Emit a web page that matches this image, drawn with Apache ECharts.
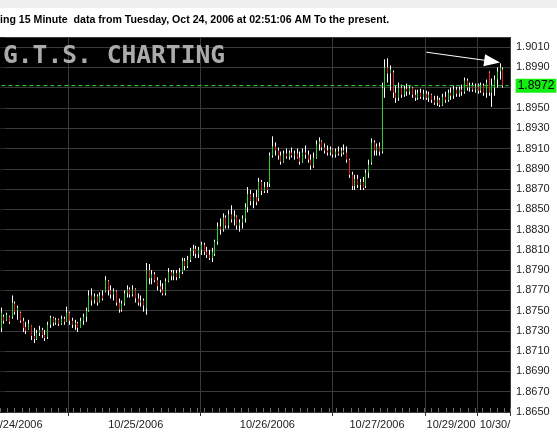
<!DOCTYPE html>
<html><head><meta charset="utf-8">
<script src="https://cdn.jsdelivr.net/npm/echarts@6/dist/echarts.min.js"></script>
<style>html,body{margin:0;padding:0;background:#fff}#c{width:557px;height:438px}</style>
</head><body><div id="c"></div>
<script>
const opens = [1.8733,1.8744,1.8741,1.8744,1.8744,1.8757,1.8750,1.8748,1.8740,1.8734,1.8731,1.8736,1.8725,1.8722,1.8728,1.8731,1.8726,1.8724,1.8736,1.8743,1.8738,1.8741,1.8737,1.8742,1.8739,
1.8748,1.8740,1.8736,1.8738,1.8733,1.8740,1.8744,1.8750,1.8765,1.8760,1.8764,1.8758,1.8765,1.8769,1.8779,1.8770,1.8766,1.8769,1.8758,1.8751,1.8757,1.8767,1.8771,1.8766,1.8771,1.8762,1.8758,1.8760,1.8752,1.8790,1.8782,1.8786,1.8780,1.8774,1.8771,1.8767,1.8779,1.8788,1.8784,1.8787,1.8783,1.8788,1.8799,1.8794,1.8800,1.8809,1.8811,1.8806,
1.8810,1.8815,1.8808,1.8805,1.8802,1.8806,1.8818,1.8833,1.8830,1.8842,1.8834,1.8845,1.8840,1.8843,1.8834,1.8837,1.8841,1.8852,1.8865,1.8858,1.8862,1.8861,1.8877,1.8868,1.8872,1.8875,1.8903,1.8912,1.8908,1.8903,1.8897,1.8905,1.8902,1.8906,1.8903,1.8905,1.8901,1.8897,1.8906,1.8904,1.8899,1.8893,1.8901,1.8914,1.8917,1.8911,1.8908,1.8906,
1.8909,1.8904,1.8907,1.8905,1.8908,1.8906,1.8899,1.8884,1.8873,1.8880,1.8874,1.8877,1.8873,1.8886,1.8896,1.8916,1.8908,1.8912,1.8907,1.8970,1.8990,1.8984,1.8985,1.8965,1.8960,1.8970,1.8963,1.8969,1.8966,1.8970,1.8963,1.8960,1.8965,1.8961,
1.8964,1.8960,1.8963,1.8958,1.8955,1.8958,1.8953,1.8961,1.8958,1.8965,1.8962,1.8968,1.8964,1.8968,1.8966,1.8977,1.8970,1.8972,1.8968,
1.8971,1.8967,1.8972,1.8965,1.8985,1.8965,1.8970,1.8978,1.8986,1.8988];
const closes = [1.8748,1.8740,1.8746,1.8739,1.8758,1.8749,1.8753,1.8740,1.8733,1.8730,1.8737,1.8725,1.8722,1.8728,1.8731,1.8726,1.8723,1.8736,1.8743,1.8738,1.8741,1.8737,1.8742,1.8739,1.8748,
1.8740,1.8736,1.8738,1.8733,1.8740,1.8744,1.8750,1.8765,1.8760,1.8764,1.8758,1.8765,1.8762,1.8780,1.8770,1.8766,1.8769,1.8758,1.8751,1.8757,1.8767,1.8771,1.8766,1.8771,1.8762,1.8758,1.8760,1.8755,1.8790,1.8782,1.8786,1.8780,1.8774,1.8771,1.8767,1.8779,1.8788,1.8784,1.8787,1.8783,1.8788,1.8799,1.8794,1.8800,1.8809,1.8811,1.8806,1.8810,
1.8815,1.8808,1.8805,1.8802,1.8808,1.8818,1.8833,1.8830,1.8842,1.8834,1.8845,1.8840,1.8843,1.8834,1.8837,1.8841,1.8852,1.8865,1.8858,1.8862,1.8857,1.8877,1.8868,1.8872,1.8869,1.8903,1.8912,1.8908,1.8903,1.8897,1.8905,1.8902,1.8906,1.8903,1.8905,1.8901,1.8897,1.8906,1.8904,1.8899,1.8893,1.8901,1.8914,1.8917,1.8911,1.8908,1.8906,1.8909,
1.8904,1.8907,1.8905,1.8908,1.8906,1.8899,1.8884,1.8873,1.8880,1.8874,1.8877,1.8871,1.8886,1.8894,1.8916,1.8908,1.8912,1.8907,1.8970,1.8990,1.8984,1.8988,1.8965,1.8960,1.8970,1.8963,1.8969,1.8966,1.8970,1.8963,1.8960,1.8965,1.8961,1.8964,
1.8960,1.8963,1.8958,1.8955,1.8958,1.8953,1.8961,1.8958,1.8965,1.8962,1.8968,1.8964,1.8968,1.8966,1.8977,1.8970,1.8972,1.8968,1.8971,
1.8967,1.8972,1.8965,1.8975,1.8965,1.8972,1.8978,1.8986,1.8990,1.8972];
const lows = [1.8729,1.8737,1.8740,1.8737,1.8742,1.8746,1.8741,1.8738,1.8729,1.8727,1.8731,1.8721,1.8718,1.8721,1.8725,1.8723,1.8720,1.8722,1.8733,1.8735,1.8736,1.8735,1.8736,1.8736,1.8739,
1.8736,1.8733,1.8731,1.8729,1.8733,1.8736,1.8739,1.8749,1.8755,1.8757,1.8755,1.8758,1.8760,1.8768,1.8765,1.8762,1.8760,1.8755,1.8748,1.8749,1.8755,1.8763,1.8763,1.8764,1.8758,1.8755,1.8754,1.8749,1.8746,1.8776,1.8776,1.8778,1.8770,1.8768,1.8765,1.8765,1.8778,1.8780,1.8780,1.8780,1.8782,1.8786,1.8790,1.8792,1.8798,1.8804,1.8802,1.8802,
1.8805,1.8805,1.8802,1.8800,1.8798,1.8804,1.8815,1.8825,1.8828,1.8831,1.8831,1.8837,1.8834,1.8830,1.8828,1.8831,1.8837,1.8847,1.8854,1.8851,1.8854,1.8858,1.8864,1.8866,1.8866,1.8872,1.8901,1.8903,1.8899,1.8894,1.8896,1.8900,1.8899,1.8901,1.8899,1.8900,1.8894,1.8896,1.8900,1.8896,1.8889,1.8891,1.8900,1.8908,1.8908,1.8905,1.8903,1.8903,
1.8901,1.8901,1.8903,1.8902,1.8904,1.8896,1.8881,1.8869,1.8869,1.8871,1.8869,1.8869,1.8871,1.8881,1.8894,1.8903,1.8903,1.8903,1.8905,1.8960,1.8975,1.8967,1.8960,1.8955,1.8957,1.8960,1.8961,1.8962,1.8963,1.8960,1.8957,1.8958,1.8959,1.8958,
1.8958,1.8956,1.8955,1.8953,1.8952,1.8951,1.8952,1.8955,1.8956,1.8958,1.8959,1.8961,1.8961,1.8962,1.8964,1.8967,1.8966,1.8966,1.8965,
1.8964,1.8965,1.8962,1.8960,1.8962,1.8951,1.8962,1.8970,1.8978,1.8970];
const highs = [1.8753,1.8746,1.8748,1.8745,1.8765,1.8759,1.8755,1.8749,1.8743,1.8739,1.8741,1.8736,1.8733,1.8731,1.8735,1.8733,1.8731,1.8739,1.8745,1.8744,1.8743,1.8742,1.8745,1.8744,1.8754,
1.8749,1.8743,1.8741,1.8739,1.8743,1.8747,1.8753,1.8770,1.8772,1.8767,1.8766,1.8768,1.8770,1.8784,1.8780,1.8775,1.8772,1.8770,1.8762,1.8760,1.8770,1.8775,1.8773,1.8775,1.8772,1.8767,1.8765,1.8762,1.8797,1.8796,1.8790,1.8788,1.8783,1.8780,1.8777,1.8782,1.8792,1.8790,1.8790,1.8790,1.8792,1.8802,1.8802,1.8804,1.8812,1.8815,1.8814,1.8813,
1.8818,1.8817,1.8813,1.8810,1.8812,1.8820,1.8837,1.8841,1.8846,1.8844,1.8849,1.8854,1.8849,1.8844,1.8840,1.8844,1.8856,1.8872,1.8869,1.8866,1.8869,1.8881,1.8879,1.8877,1.8877,1.8906,1.8922,1.8916,1.8911,1.8907,1.8908,1.8910,1.8908,1.8911,1.8908,1.8910,1.8907,1.8910,1.8913,1.8908,1.8904,1.8906,1.8918,1.8921,1.8918,1.8915,1.8913,1.8912,
1.8910,1.8910,1.8912,1.8911,1.8914,1.8912,1.8900,1.8887,1.8884,1.8884,1.8880,1.8882,1.8889,1.8899,1.8920,1.8918,1.8915,1.8916,1.8975,1.8998,1.8999,1.8992,1.8987,1.8972,1.8975,1.8973,1.8972,1.8974,1.8972,1.8971,1.8968,1.8968,1.8969,1.8968,
1.8967,1.8966,1.8964,1.8962,1.8962,1.8960,1.8964,1.8966,1.8968,1.8970,1.8972,1.8971,1.8971,1.8973,1.8980,1.8979,1.8975,1.8975,1.8974,
1.8974,1.8975,1.8974,1.8978,1.8986,1.8979,1.8982,1.8990,1.8994,1.8990];

const slotCount = 186;
const categories = Array.from({length: slotCount}, (_, i) => String(i));
const dayStarts = [25, 73, 121, 155, 174];
const dayLabels = {5: '10/24/2006', 49: '10/25/2006', 97: '10/26/2006', 137: '10/27/2006', 164: '10/29/200', 180: '10/30/'};
const yMin = 1.8650, yMax = 1.9020, yStep = 0.0020;
const lastPrice = 1.8972;
const arrowFrom = ['155', 1.9005], arrowTo = ['179', 1.8996];
const titleText = 'ing 15 Minute  data from Tuesday, Oct 24, 2006 at 02:51:06 AM To the present.';
const watermarkText = 'G.T.S. CHARTING';

const rangeData = lows.map((l, i) => [l, highs[i], l, highs[i]]);
const bodyData = opens.map((o, i) => [o, closes[i], Math.min(o, closes[i]), Math.max(o, closes[i])]);
const priceLineData = [[categories[0], lastPrice], [categories[slotCount - 1], lastPrice]];

const FONT = 'Arial, "Liberation Sans", sans-serif';
const chart = echarts.init(document.getElementById('c'), null, {renderer: 'canvas'});
chart.setOption({
  animation: false,
  backgroundColor: '#fff',
  grid: {left: 0, right: 47, top: 37, bottom: 26, show: true, backgroundColor: '#000', borderWidth: 0, containLabel: false, outerBoundsMode: 'none'},
  graphic: [
    {type: 'rect', left: 0, top: 0, shape: {width: 557, height: 8}, style: {fill: '#efefef'}, z: 0},
    {type: 'text', left: 0, top: 15, style: {text: titleText, font: 'bold 10.6px ' + FONT, fill: '#000'}, z: 5},
    {type: 'text', left: 3, top: 44, style: {text: watermarkText, font: 'bold 24.6px "DejaVu Sans Mono", monospace', fill: '#ababab'}, z: 1}
  ],
  xAxis: [{
    type: 'category', data: categories, boundaryGap: true, gridIndex: 0,
    axisLine: {show: false},
    axisTick: {show: true, length: 4, interval: (i) => dayStarts.includes(i), lineStyle: {color: '#333'}},
    axisLabel: {interval: (i) => dayLabels[i] !== undefined, formatter: (v, i) => dayLabels[i] || '', color: '#222', fontSize: 11, fontFamily: FONT, margin: 7},
    splitLine: {show: true, interval: (i) => dayStarts.includes(i), lineStyle: {color: '#3a3a3a', width: 1}}
  }, {
    type: 'value', min: 0, max: 69.75, interval: 1, gridIndex: 0, position: 'bottom',
    axisLine: {show: false}, axisLabel: {show: false}, splitLine: {show: false},
    axisTick: {show: true, inside: true, length: 4, lineStyle: {color: '#6a6a6a'}}
  }],
  yAxis: {
    type: 'value', position: 'right', min: yMin, max: yMax, interval: yStep,
    axisLine: {show: false},
    axisTick: {show: true, length: 5, lineStyle: {color: '#222'}},
    axisLabel: {
      color: '#222', fontSize: 11, fontFamily: FONT, margin: 6,
      formatter: (v) => {
        const k = (v - yMin) / yStep;
        return Math.abs(k - Math.round(k)) < 1e-6 && v < yMax - 1e-6 ? v.toFixed(4) : '';
      }
    },
    splitLine: {show: true, lineStyle: {color: '#3a3a3a', width: 1}}
  },
  series: [{
    type: 'candlestick', name: 'range', data: rangeData, barWidth: 1,
    itemStyle: {color: '#ffffff', color0: '#ffffff', borderColor: '#ffffff', borderColor0: '#ffffff', borderWidth: 1},
    markLine: {
      silent: true, animation: false, symbol: ['none', 'triangle'], symbolSize: [12, 16],
      lineStyle: {color: '#ffffff', width: 1, type: 'solid'}, label: {show: false},
      data: [[{coord: arrowFrom}, {coord: arrowTo}]]
    }
  }, {
    type: 'candlestick', name: 'body', data: bodyData, barWidth: 1,
    itemStyle: {color: '#2fd02f', color0: '#e02020', borderColor: '#2fd02f', borderColor0: '#e02020', borderWidth: 1}
  }, {
    type: 'line', name: 'last', data: priceLineData, symbol: 'none', z: 10, silent: true,
    lineStyle: {color: '#2ee02e', width: 1, type: [4, 3]},
    endLabel: {show: true, formatter: lastPrice.toFixed(4), backgroundColor: '#11ee11', color: '#000', fontSize: 12, fontFamily: FONT, padding: [1, 2], distance: 7}
  }]
});
</script></body></html>
